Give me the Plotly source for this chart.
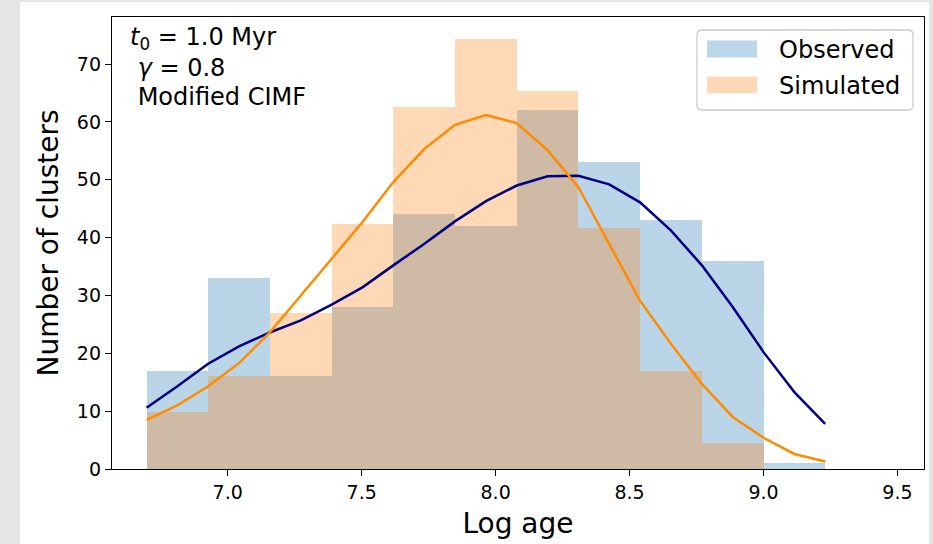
import plotly.graph_objects as go

# ---------------- data ----------------
bin_edges = [6.697, 6.927, 7.157, 7.388, 7.618, 7.848, 8.079, 8.309, 8.539, 8.770, 9.000, 9.230]
observed_counts = [17, 33, 16, 28, 44, 42, 62, 53, 43, 36, 1]
simulated_counts = [9.9, 16, 27, 42.3, 62.5, 74.4, 65.3, 41.6, 17, 4.5, 0]

kde_x = [6.697, 6.812, 6.927, 7.042, 7.157, 7.273, 7.388, 7.503, 7.618, 7.733, 7.848, 7.964,
         8.079, 8.194, 8.309, 8.424, 8.539, 8.655, 8.770, 8.885, 9.000, 9.115, 9.230]
observed_kde = [10.6, 14.3, 18.2, 21.2, 23.6, 25.7, 28.4, 31.4, 35.2, 38.9, 42.8, 46.3,
                49.0, 50.6, 50.7, 49.2, 46.1, 41.2, 35.2, 28.0, 20.2, 13.3, 7.8]
simulated_kde = [8.5, 11.0, 14.3, 18.3, 23.6, 30.0, 36.4, 42.7, 49.6, 55.3, 59.5, 61.2,
                 59.8, 55.1, 48.7, 38.9, 29.1, 21.6, 14.7, 9.0, 5.4, 2.6, 1.3]

x_ticks = [7.0, 7.5, 8.0, 8.5, 9.0, 9.5]
x_tick_labels = ["7.0", "7.5", "8.0", "8.5", "9.0", "9.5"]
y_ticks = [0, 10, 20, 30, 40, 50, 60, 70]

series_names = ["Observed", "Simulated"]
text_lines = ["<i>t</i><sub>0</sub> = 1.0 Myr", "\u00a0<i>γ</i> = 0.8", "\u00a0Modified CIMF"]

# ---------------- figure ----------------
W, H = 933, 544
ML, MR, MT, MB = 112, 9, 17, 75
PW, PH = W - ML - MR, H - MT - MB


def xp(px):
    return (px - ML) / PW


def yp(py):
    return (H - MB - py) / PH


centers = [(a + b) / 2 for a, b in zip(bin_edges[:-1], bin_edges[1:])]
widths = [b - a for a, b in zip(bin_edges[:-1], bin_edges[1:])]

FONT = "DejaVu Sans"

fig = go.Figure()
fig.add_trace(go.Bar(x=centers, y=observed_counts, width=widths, marker=dict(color="#1f77b4", line=dict(width=0)),
                     opacity=0.3, name=series_names[0], showlegend=False))
fig.add_trace(go.Bar(x=centers, y=simulated_counts, width=widths, marker=dict(color="#ff7f0e", line=dict(width=0)),
                     opacity=0.3, name=series_names[1], showlegend=False))
fig.add_trace(go.Scatter(x=kde_x, y=observed_kde, mode="lines", line=dict(color="#000080", width=2.5),
                         showlegend=False))
fig.add_trace(go.Scatter(x=kde_x, y=simulated_kde, mode="lines", line=dict(color="#ff8c00", width=2.5),
                         showlegend=False))

shapes = []
# grey page edges
shapes.append(dict(type="rect", xref="paper", yref="paper", x0=xp(0), x1=xp(20), y0=yp(H), y1=yp(0),
                   fillcolor="#e5e5e5", line=dict(width=0), layer="below"))
shapes.append(dict(type="rect", xref="paper", yref="paper", x0=xp(0), x1=xp(W), y0=yp(2), y1=yp(0),
                   fillcolor="#e5e5e5", line=dict(width=0), layer="below"))
shapes.append(dict(type="rect", xref="paper", yref="paper", x0=xp(929), x1=xp(W), y0=yp(H), y1=yp(0),
                   fillcolor="#e5e5e5", line=dict(width=0), layer="below"))

# legend box (rounded)
lx0, lx1, ly0, ly1 = xp(697), xp(913), yp(110), yp(30)
rx, ry = 5 / PW, 5 / PH
path = (f"M {lx0+rx},{ly1} L {lx1-rx},{ly1} Q {lx1},{ly1} {lx1},{ly1-ry} "
        f"L {lx1},{ly0+ry} Q {lx1},{ly0} {lx1-rx},{ly0} L {lx0+rx},{ly0} "
        f"Q {lx0},{ly0} {lx0},{ly0+ry} L {lx0},{ly1-ry} Q {lx0},{ly1} {lx0+rx},{ly1} Z")
shapes.append(dict(type="path", xref="paper", yref="paper", path=path, fillcolor="rgba(255,255,255,0.8)",
                   line=dict(color="#cccccc", width=1.3), layer="above"))
legend_colors = ["#bbd6e8", "#ffd9b7"]
legend_rows = [49, 85]
for c, yc in zip(legend_colors, legend_rows):
    shapes.append(dict(type="rect", xref="paper", yref="paper", x0=xp(707), x1=xp(757),
                       y0=yp(yc + 8.5), y1=yp(yc - 8.5), fillcolor=c, line=dict(width=0), layer="above"))

annotations = []
for name, yc in zip(series_names, legend_rows):
    annotations.append(dict(xref="paper", yref="paper", x=xp(777), y=yp(yc + 1), text=name, showarrow=False,
                            xanchor="left", yanchor="middle", font=dict(family=FONT, size=24, color="black")))
for txt, yc in zip(text_lines, [38, 68, 97]):
    annotations.append(dict(xref="paper", yref="paper", x=xp(128), y=yp(yc), text=txt,
                            showarrow=False, xanchor="left", yanchor="middle",
                            font=dict(family=FONT, size=24, color="black")))

fig.update_layout(
    width=W, height=H,
    margin=dict(l=ML, r=MR, t=MT, b=MB, autoexpand=False),
    paper_bgcolor="white", plot_bgcolor="white",
    barmode="overlay", bargap=0,
    showlegend=False,
    shapes=shapes, annotations=annotations,
    font=dict(family=FONT, color="black"),
)
fig.update_xaxes(range=[6.568, 9.599], tickvals=x_ticks, ticktext=x_tick_labels,
                 showline=True, mirror=True, linecolor="black", linewidth=1.3,
                 ticks="outside", ticklen=6, tickwidth=1.3, tickcolor="black",
                 showgrid=False, zeroline=False, tickfont=dict(family=FONT, size=19, color="black"),
                 title=dict(text="Log age", font=dict(family=FONT, size=28, color="black"), standoff=11))
fig.update_yaxes(range=[0, 78.13], tickvals=y_ticks,
                 showline=True, mirror=True, linecolor="black", linewidth=1.3,
                 ticks="outside", ticklen=6, tickwidth=1.3, tickcolor="black",
                 showgrid=False, zeroline=False, tickfont=dict(family=FONT, size=19, color="black"),
                 title=dict(text="Number of clusters", font=dict(family=FONT, size=28, color="black"), standoff=10))

fig.write_html("out.html")
